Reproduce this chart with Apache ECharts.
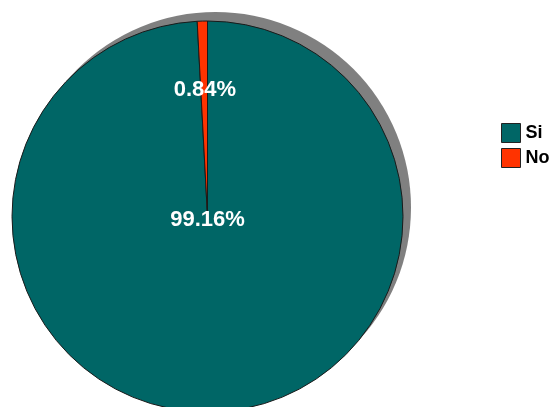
<!DOCTYPE html>
<html><head><meta charset="utf-8">
<script src="https://cdn.jsdelivr.net/npm/echarts@6/dist/echarts.min.js"></script>
<style>html,body{margin:0;padding:0;background:#fff}#c{width:551px;height:407px}</style>
</head><body><div id="c"></div>
<script>
const categories = ['Si', 'No'];
const values = [99.16, 0.84];
const colors = ['#006666', '#FF3300'];

const chart = echarts.init(document.getElementById('c'), null, {renderer: 'canvas'});
const cx = 207.5, cy = 216.5, R = 195.5;
const lblStyle = {fontFamily: 'Liberation Sans', fontWeight: 'bold', fontSize: 22, color: '#fff'};
chart.setOption({
  animation: false,
  legend: {
    orient: 'vertical', left: 501, top: 123, padding: 0,
    itemWidth: 19, itemHeight: 19, itemGap: 5,
    icon: 'rect',
    itemStyle: {borderColor: '#222', borderWidth: 1},
    textStyle: {fontFamily: 'Liberation Sans', fontWeight: 'bold', fontSize: 18, color: '#000'},
    data: categories
  },
  series: [
    {
      type: 'pie', silent: true, center: [cx + 8, cy - 9], radius: R,
      label: {show: false}, labelLine: {show: false},
      itemStyle: {color: '#808080'},
      data: [{value: 1, name: '_shadow'}],
      z: 1
    },
    {
      type: 'pie', center: [cx, cy], radius: R, startAngle: 90, clockwise: true,
      avoidLabelOverlap: false,
      itemStyle: {borderColor: '#1a1a1a', borderWidth: 1},
      labelLine: {show: false},
      labelLayout: p => p.dataIndex === 1 ? {dy: -26} : {dy: 3},
      data: categories.map((n, i) => ({
        name: n, value: values[i],
        itemStyle: {color: colors[i]},
        label: Object.assign({show: true, position: i === 0 ? 'center' : 'inside',
          formatter: v => v.value.toFixed(2) + '%'}, lblStyle)
      })),
      z: 2
    }
  ]
});
</script></body></html>
